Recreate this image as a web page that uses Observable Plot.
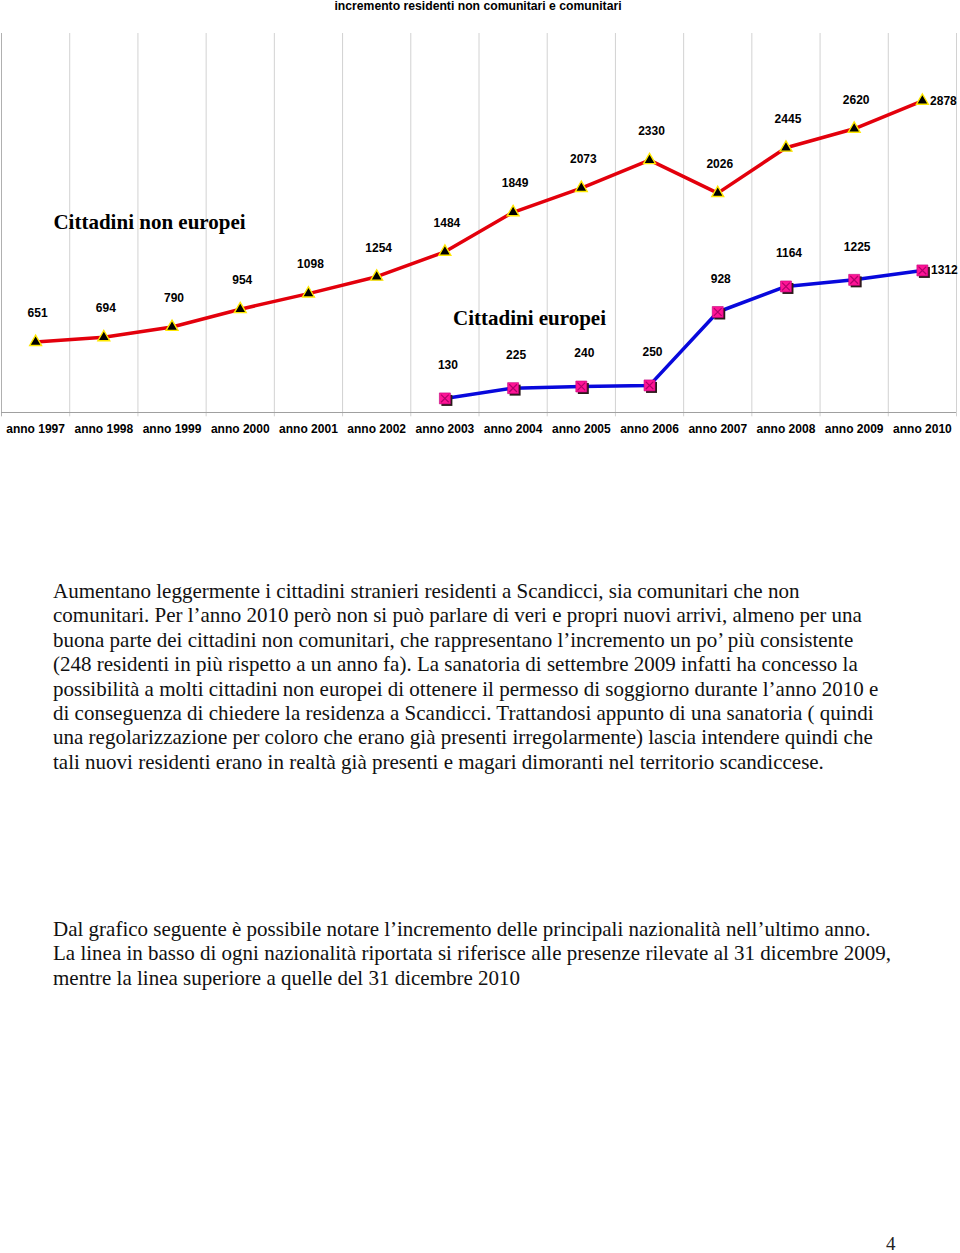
<!DOCTYPE html>
<html>
<head>
<meta charset="utf-8">
<script src="https://cdn.jsdelivr.net/npm/d3@7"></script>
<script src="https://cdn.jsdelivr.net/npm/@observablehq/plot@0.6"></script>
<style>
  body { margin: 0; background: #fff; }
  #page { position: relative; width: 960px; height: 1253px; overflow: hidden; background: #fff; }
  #title { position: absolute; left: 0; top: 0; width: 956px; text-align: center;
           font: bold 12.2px "Liberation Sans", Arial, sans-serif; line-height: 12px; color: #000; }
  #chart { position: absolute; left: 0; top: 16px; }
  .para { position: absolute; left: 53px; font-family: "Liberation Serif", "Times New Roman", serif;
          font-size: 21px; line-height: 24.4px; color: #111; white-space: nowrap; }
  #pagenum { position: absolute; left: 886px; top: 1233px; font-family: "Liberation Serif", serif; font-size: 19px; color: #222; }
</style>
</head>
<body>
<div id="page">
  <div id="title">incremento residenti non comunitari e comunitari</div>
  <div id="chart"></div>
  <div class="para" id="p1" style="top:579px"></div>
  <div class="para" id="p2" style="top:917px"></div>
  <div id="pagenum">4</div>
</div>
<script>
// ---- data ----
const years = ["anno 1997", "anno 1998", "anno 1999", "anno 2000", "anno 2001", "anno 2002", "anno 2003",
               "anno 2004", "anno 2005", "anno 2006", "anno 2007", "anno 2008", "anno 2009", "anno 2010"];
const nonEuropei = [651, 694, 790, 954, 1098, 1254, 1484, 1849, 2073, 2330, 2026, 2445, 2620, 2878];
const europei = [null, null, null, null, null, null, 130, 225, 240, 250, 928, 1164, 1225, 1312];
const seriesNames = ["Cittadini non europei", "Cittadini europei"];
const yMax = 3500;

const para1 = [
  "Aumentano leggermente i cittadini stranieri residenti a Scandicci, sia comunitari che non",
  "comunitari. Per l\u2019anno 2010 però non si può parlare di veri e propri nuovi arrivi, almeno per una",
  "buona parte dei cittadini non comunitari, che rappresentano l\u2019incremento un po\u2019 più consistente",
  "(248 residenti in più rispetto a un anno fa). La sanatoria di settembre 2009 infatti ha concesso la",
  "possibilità a molti cittadini non europei di ottenere il permesso di soggiorno durante l\u2019anno 2010 e",
  "di conseguenza di chiedere la residenza a Scandicci. Trattandosi appunto di una sanatoria ( quindi",
  "una regolarizzazione per coloro che erano già presenti irregolarmente) lascia intendere quindi che",
  "tali nuovi residenti erano in realtà già presenti e magari dimoranti nel territorio scandiccese."
];
const para2 = [
  "Dal grafico seguente è possibile notare l\u2019incremento delle principali nazionalità nell\u2019ultimo anno.",
  "La linea in basso di ogni nazionalità riportata si riferisce alle presenze rilevate al 31 dicembre 2009,",
  "mentre la linea superiore a quelle del 31 dicembre 2010"
];

// ---- build ----
const last = years.length - 1;
const red = years.map((y, i) => ({i, year: y, v: nonEuropei[i]}));
const blue = years.map((y, i) => ({i, year: y, v: europei[i]})).filter(d => d.v != null);
const bounds = d3.range(years.length + 1).map(i => i - 0.5);
const serif = "'Liberation Serif', 'Times New Roman', serif";

const chart = Plot.plot({
  width: 960,
  height: 426,
  marginLeft: 1,
  marginRight: 4,
  marginTop: 17,
  marginBottom: 30,
  x: {type: "linear", domain: [-0.5, years.length - 0.5], axis: null},
  y: {domain: [0, yMax], axis: null},
  style: {fontFamily: "'Liberation Sans', Arial, sans-serif", overflow: "visible", background: "transparent"},
  marks: [
    Plot.ruleX(bounds, {x: d => d, y1: -40, y2: yMax, stroke: d => d < 0 ? "#b0b0b0" : "#d2d2d2", strokeWidth: 1}),
    Plot.ruleY([0], {stroke: "#a0a0a0", strokeWidth: 1}),
    Plot.axisX(d3.range(years.length), {tickFormat: i => years[i], tickSize: 0, tickPadding: 12,
      fontSize: 12, fontWeight: "bold", fill: "#000", label: null}),
    // non europei
    Plot.line(red, {x: "i", y: "v", stroke: "#e3000c", strokeWidth: 3.5}),
    Plot.dot(red, {x: "i", y: "v", symbol: "triangle", r: 4.4, fill: "#000", stroke: "#ffe800", strokeWidth: 1.4}),
    Plot.text(red.filter(d => d.i !== last), {x: "i", y: "v", text: d => String(d.v), dy: -29, dx: 2,
      fontSize: 12, fontWeight: "bold", fill: "#000"}),
    Plot.text(red.filter(d => d.i === last), {x: "i", y: "v", text: d => String(d.v), dx: 21,
      fontSize: 12, fontWeight: "bold", fill: "#000"}),
    // europei
    Plot.line(blue, {x: "i", y: "v", stroke: "#0808dc", strokeWidth: 3.5}),
    Plot.dot(blue, {x: "i", y: "v", symbol: "square", r: 6.2, fill: "#2a1a1a", dx: 2, dy: 2}),
    Plot.dot(blue, {x: "i", y: "v", symbol: "square", r: 6.2, fill: "#ff1496", stroke: "#c0007a", strokeWidth: 0.6}),
    Plot.dot(blue, {x: "i", y: "v", symbol: "times", r: 3.6, stroke: "#b0006a", strokeWidth: 1.2}),
    Plot.text(blue.filter(d => d.i !== last), {x: "i", y: "v", text: d => String(d.v), dy: -33, dx: 3,
      fontSize: 12, fontWeight: "bold", fill: "#000"}),
    Plot.text(blue.filter(d => d.i === last), {x: "i", y: "v", text: d => String(d.v), dx: 22,
      fontSize: 12, fontWeight: "bold", fill: "#000"}),
    // series annotations
    Plot.text([seriesNames[0]], {x: 1.67, y: 1761, text: d => d, fontSize: 21, fontWeight: "bold",
      fontFamily: serif, fill: "#000"}),
    Plot.text([seriesNames[1]], {x: 7.24, y: 874, text: d => d, fontSize: 21, fontWeight: "bold",
      fontFamily: serif, fill: "#000"})
  ]
});
document.getElementById("chart").appendChild(chart);

document.getElementById("p1").innerHTML = para1.map(l => `<div>${l}</div>`).join("");
document.getElementById("p2").innerHTML = para2.map(l => `<div>${l}</div>`).join("");
</script>
</body>
</html>
